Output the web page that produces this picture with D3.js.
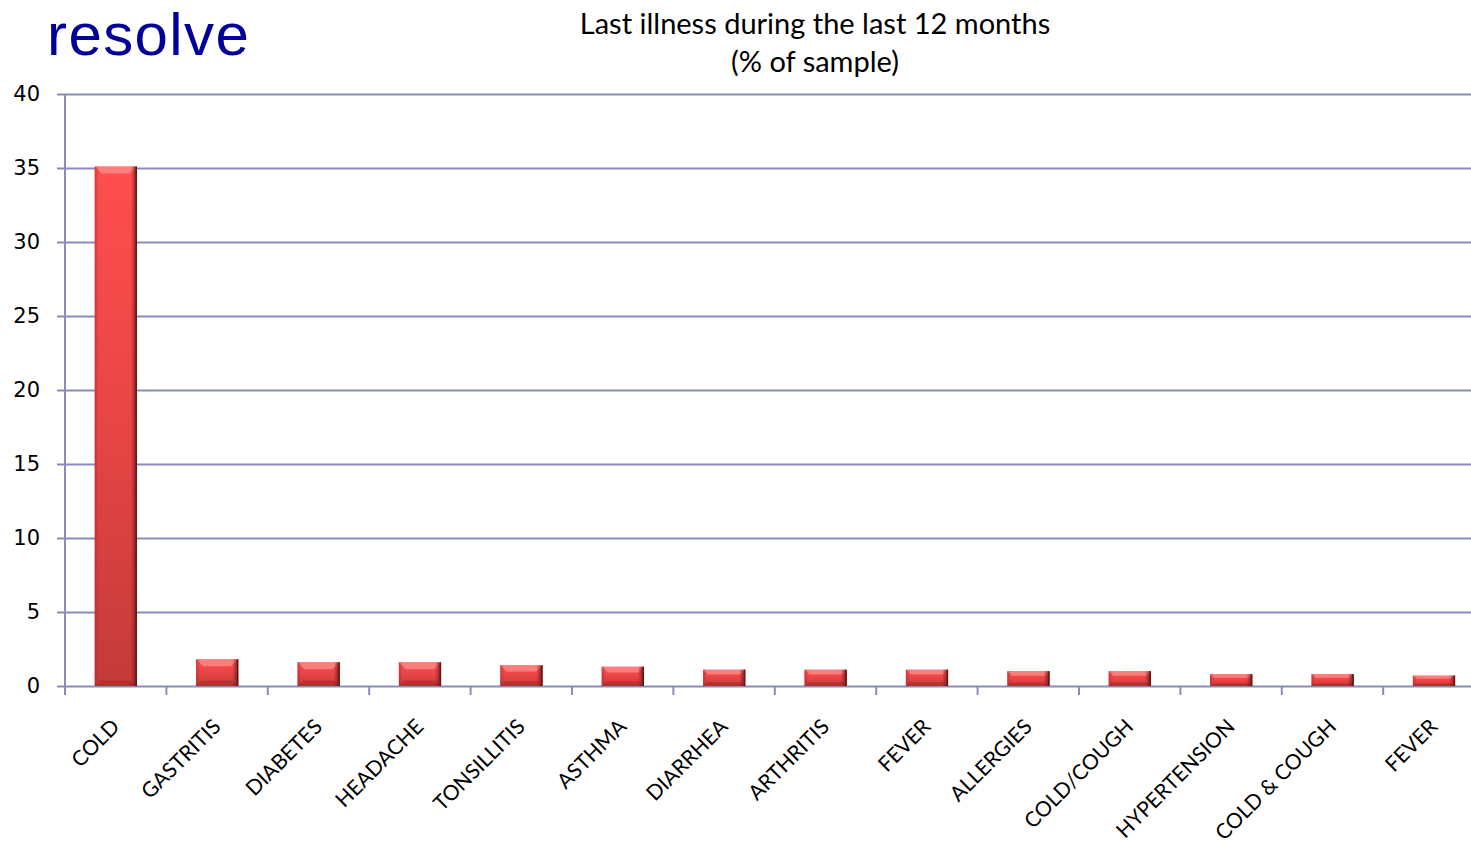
<!DOCTYPE html>
<html>
<head>
<meta charset="utf-8">
<script src="https://cdn.jsdelivr.net/npm/d3@7"></script>
<style>
  html, body { margin: 0; padding: 0; background: #fff; }
  svg { display: block; }
</style>
</head>
<body>
<svg id="chart" width="1471" height="849"></svg>
<script>
// Last illness during the last 12 months, % of sample
const categories = ["COLD", "GASTRITIS", "DIABETES", "HEADACHE", "TONSILLITIS", "ASTHMA",
  "DIARRHEA", "ARTHRITIS", "FEVER", "ALLERGIES", "COLD/COUGH", "HYPERTENSION",
  "COLD & COUGH", "FEVER "];
const values = [35.1, 1.8, 1.6, 1.6, 1.4, 1.3, 1.1, 1.1, 1.1, 1.0, 1.0, 0.8, 0.8, 0.7];
const yTicks = [0, 5, 10, 15, 20, 25, 30, 35, 40];
const titleLines = ["Last illness during the last 12 months", "(% of sample)"];
const brand = "resolve";

const svg = d3.select("#chart");
const gridColor = "#8a8abf";

const margin = { left: 65, top: 94, bottom: 686 };
const plotRight = 65 + 14 * 101.4;

const x = d3.scaleBand()
  .domain(d3.range(categories.length))
  .range([margin.left, plotRight])
  .paddingInner(0.585)
  .paddingOuter(0.2925);

const y = d3.scaleLinear().domain([0, 40]).range([margin.bottom, margin.top]);

// gradients for the bevelled bars
const defs = svg.append("defs");
const body = defs.append("linearGradient").attr("id", "barBody")
  .attr("x1", 0).attr("y1", 0).attr("x2", 0).attr("y2", 1);
body.append("stop").attr("offset", "0%").attr("stop-color", "#ff4e4e");
body.append("stop").attr("offset", "50%").attr("stop-color", "#e84545");
body.append("stop").attr("offset", "100%").attr("stop-color", "#c43a3a");

const side = defs.append("linearGradient").attr("id", "barSide")
  .attr("x1", 0).attr("y1", 0).attr("x2", 1).attr("y2", 0);
side.append("stop").attr("offset", "0%").attr("stop-color", "#9c2626").attr("stop-opacity", 0.45);
side.append("stop").attr("offset", "10%").attr("stop-color", "#9c2626").attr("stop-opacity", 0);
side.append("stop").attr("offset", "86%").attr("stop-color", "#7a1a1a").attr("stop-opacity", 0);
side.append("stop").attr("offset", "100%").attr("stop-color", "#6e1515").attr("stop-opacity", 0.85);

// brand mark
svg.append("text")
  .attr("x", 47).attr("y", 55)
  .attr("font-family", "Liberation Sans, Arial, sans-serif")
  .attr("font-size", 60)
  .attr("letter-spacing", 1.4)
  .attr("fill", "#000099")
  .text(brand);

// title
svg.append("g").selectAll("text").data(titleLines).join("text")
  .attr("x", 815)
  .attr("y", (d, i) => 34 + i * 38)
  .attr("text-anchor", "middle")
  .attr("font-family", "Lato, 'Open Sans', sans-serif")
  .attr("font-size", 29)
  .attr("fill", "#000")
  .text(d => d);

// horizontal gridlines with outside ticks
const yAxis = d3.axisLeft(y).tickValues(yTicks)
  .tickSize(-(plotRight - margin.left)).tickSizeOuter(0).tickPadding(25);
const gy = svg.append("g").attr("transform", `translate(${margin.left},0)`).call(yAxis);
gy.select(".domain").remove();
gy.selectAll(".tick line")
  .attr("x1", -8)
  .attr("stroke", gridColor).attr("stroke-width", 2);
gy.selectAll(".tick text")
  .attr("font-family", "DejaVu Sans, Verdana, sans-serif")
  .attr("font-size", 21)
  .attr("fill", "#000");

// vertical axis line
svg.append("line")
  .attr("x1", margin.left).attr("x2", margin.left)
  .attr("y1", y(40)).attr("y2", y(0))
  .attr("stroke", gridColor).attr("stroke-width", 2);

// category ticks below the baseline
const boundaries = d3.range(categories.length + 1).map(i => margin.left + i * x.step());
svg.append("g").selectAll("line").data(boundaries).join("line")
  .attr("x1", d => d).attr("x2", d => d)
  .attr("y1", y(0)).attr("y2", y(0) + 9)
  .attr("stroke", gridColor).attr("stroke-width", 2);

// bars with a bevelled edge
const bars = svg.append("g").selectAll("g").data(values).join("g")
  .attr("transform", (d, i) => `translate(${x(i)},${y(d)})`);
const bw = x.bandwidth();
const hOf = d => y(0) - y(d);
const bev = d => Math.min(7, hOf(d) * 0.3);

bars.append("rect")
  .attr("width", bw).attr("height", hOf)
  .attr("fill", "url(#barBody)");
// top facet
bars.append("path")
  .attr("d", d => { const b = bev(d); return `M0,0H${bw}L${bw - b},${b}H${b}Z`; })
  .attr("fill", "#ff8d8d").attr("opacity", 0.75);
// bottom facet
bars.append("path")
  .attr("d", d => { const b = bev(d) * 0.8, h = hOf(d); return `M0,${h}H${bw}L${bw - b},${h - b}H${b}Z`; })
  .attr("fill", "#9e2c2c").attr("opacity", 0.55);
// side shading
bars.append("rect")
  .attr("width", bw).attr("height", hOf)
  .attr("fill", "url(#barSide)");
bars.append("line")
  .attr("x1", bw - 0.5).attr("x2", bw - 0.5).attr("y1", 0).attr("y2", hOf)
  .attr("stroke", "#6a1414").attr("stroke-width", 1.5);

// rotated category labels
svg.append("g").selectAll("text").data(categories).join("text")
  .attr("transform", (d, i) => `translate(${x(i) + bw / 2 + 5},${728}) rotate(-45)`)
  .attr("text-anchor", "end")
  .attr("font-family", "Lato, 'Open Sans', sans-serif")
  .attr("font-size", 21)
  .attr("fill", "#000")
  .text(d => d.trim());
</script>
</body>
</html>
